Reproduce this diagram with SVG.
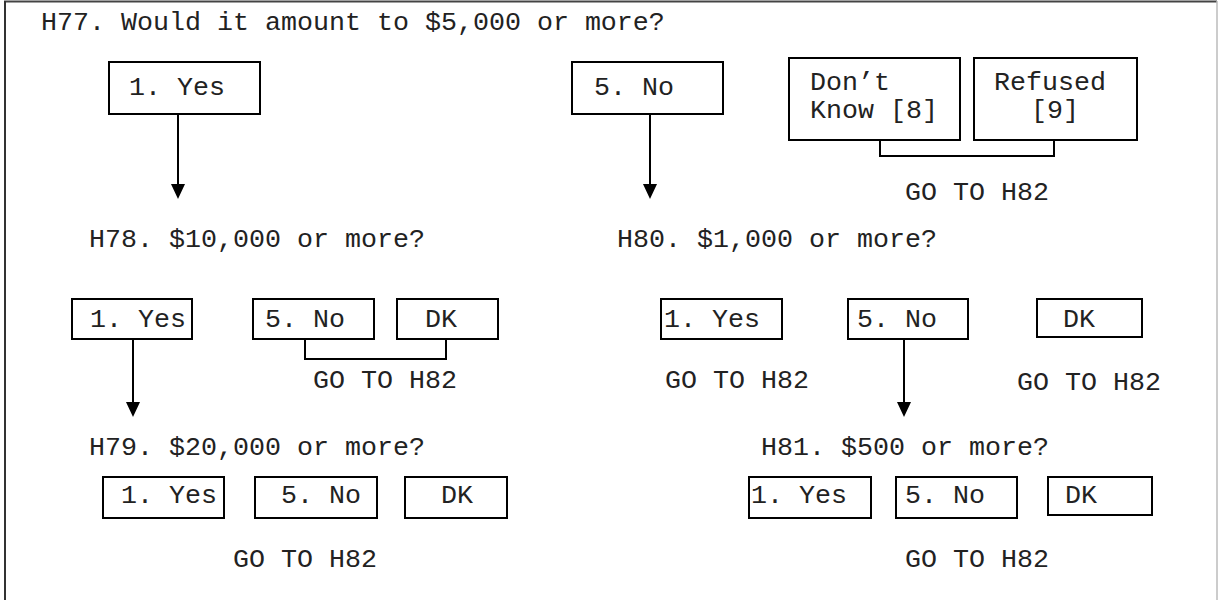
<svg xmlns="http://www.w3.org/2000/svg" width="1221" height="600" viewBox="0 0 1221 600">
<style>
  .t { font-family: "Liberation Mono", "Courier New", monospace; font-size: 26.67px; fill: #222; }
  .box { fill: #fff; stroke: #000; stroke-width: 2; }
  .ln { fill: none; stroke: #000; stroke-width: 2; }
</style>
<defs>
  <marker id="ah" viewBox="0 0 15 14" refX="1" refY="7" markerWidth="15" markerHeight="14" markerUnits="userSpaceOnUse" orient="auto">
    <path d="M0,0 L15,7 L0,14 Z" fill="#000"/>
  </marker>
</defs>
<rect x="0" y="0" width="1221" height="600" fill="#fff"/>
<g id="frame">
  <line x1="4" y1="1.5" x2="1217" y2="1.5" stroke="#444" stroke-width="2"/>
  <line x1="5" y1="1" x2="5" y2="600" stroke="#333" stroke-width="2"/>
  <line x1="1217" y1="1" x2="1217" y2="600" stroke="#bbb" stroke-width="1.5"/>
</g>
<g id="q-h77"><text class="t" x="41" y="30">H77. Would it amount to $5,000 or more?</text></g>
<g id="h77-yes"><rect class="box" x="109" y="62" width="151" height="52"/><text class="t" x="129" y="95">1. Yes</text></g>
<g id="h77-no"><rect class="box" x="572" y="62" width="151" height="52"/><text class="t" x="594" y="95">5. No</text></g>
<g id="h77-dk"><rect class="box" x="789" y="58" width="171" height="82"/><text class="t" x="810" y="90">Don’t</text><text class="t" x="810" y="118">Know [8]</text></g>
<g id="h77-rf"><rect class="box" x="974" y="58" width="163" height="82"/><text class="t" x="994" y="90">Refused</text><text class="t" x="1031" y="118">[9]</text></g>
<g id="h77-goto"><text class="t" x="905" y="200">GO TO H82</text></g>

<g id="q-h78"><text class="t" x="89" y="247">H78. $10,000 or more?</text></g>
<g id="h78-yes"><rect class="box" x="72" y="299" width="120" height="40"/><text class="t" x="90" y="327">1. Yes</text></g>
<g id="h78-no"><rect class="box" x="253" y="299" width="121" height="40"/><text class="t" x="265" y="327">5. No</text></g>
<g id="h78-dk"><rect class="box" x="397" y="299" width="101" height="40"/><text class="t" x="425" y="327">DK</text></g>
<g id="h78-goto"><text class="t" x="313" y="388">GO TO H82</text></g>

<g id="q-h80"><text class="t" x="617" y="247">H80. $1,000 or more?</text></g>
<g id="h80-yes"><rect class="box" x="661" y="299" width="121" height="40"/><text class="t" x="664" y="327">1. Yes</text></g>
<g id="h80-yes-goto"><text class="t" x="665" y="388">GO TO H82</text></g>
<g id="h80-no"><rect class="box" x="848" y="299" width="120" height="40"/><text class="t" x="857" y="327">5. No</text></g>
<g id="h80-dk"><rect class="box" x="1037" y="299" width="105" height="38"/><text class="t" x="1063" y="327">DK</text></g>
<g id="h80-dk-goto"><text class="t" x="1017" y="390">GO TO H82</text></g>

<g id="q-h79"><text class="t" x="89" y="455">H79. $20,000 or more?</text></g>
<g id="h79-yes"><rect class="box" x="103" y="477" width="121" height="41"/><text class="t" x="121" y="503">1. Yes</text></g>
<g id="h79-no"><rect class="box" x="255" y="477" width="122" height="41"/><text class="t" x="281" y="503">5. No</text></g>
<g id="h79-dk"><rect class="box" x="405" y="477" width="102" height="41"/><text class="t" x="441" y="503">DK</text></g>
<g id="h79-goto"><text class="t" x="233" y="567">GO TO H82</text></g>

<g id="q-h81"><text class="t" x="761" y="455">H81. $500 or more?</text></g>
<g id="h81-yes"><rect class="box" x="749" y="477" width="122" height="41"/><text class="t" x="751" y="503">1. Yes</text></g>
<g id="h81-no"><rect class="box" x="896" y="477" width="121" height="41"/><text class="t" x="905" y="503">5. No</text></g>
<g id="h81-dk"><rect class="box" x="1048" y="477" width="104" height="38"/><text class="t" x="1065" y="503">DK</text></g>
<g id="h81-goto"><text class="t" x="905" y="567">GO TO H82</text></g>

<g id="connectors">
  <line class="ln" x1="178" y1="114" x2="178" y2="185" marker-end="url(#ah)"/>
  <line class="ln" x1="650" y1="114" x2="650" y2="185" marker-end="url(#ah)"/>
  <polyline class="ln" points="880,140 880,156 1054,156 1054,140"/>
  <line class="ln" x1="133" y1="339" x2="133" y2="403" marker-end="url(#ah)"/>
  <polyline class="ln" points="305,339 305,359 446,359 446,339"/>
  <line class="ln" x1="904" y1="339" x2="904" y2="403" marker-end="url(#ah)"/>
</g>
</svg>
